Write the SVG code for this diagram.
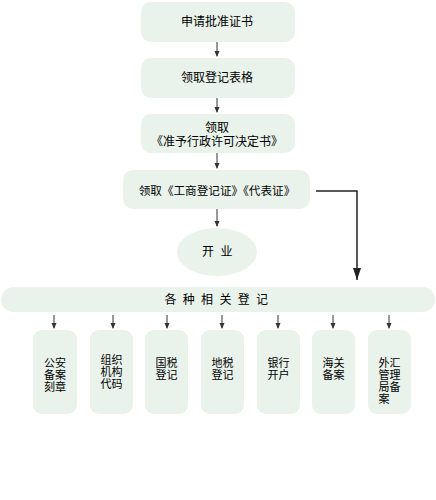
<svg xmlns="http://www.w3.org/2000/svg" width="436" height="500" viewBox="0 0 436 500">
<style>
.box{fill:#e9f3eb;stroke:none}
.t{font-family:"Liberation Sans","Noto Sans CJK SC",sans-serif;font-size:12px;fill:#000;text-anchor:middle}
.s{font-size:11px}
.c{stroke:#333;stroke-width:1;fill:none}
.cb{stroke:#222;stroke-width:1.5;fill:none}
</style>
<defs>
<marker id="a" viewBox="0 0 6 6" refX="5" refY="3" markerWidth="6" markerHeight="6" markerUnits="userSpaceOnUse" orient="auto">
<path d="M0,0.5 L6,3 L0,5.5 Z" fill="#333"/>
</marker>
<marker id="ab" viewBox="0 0 12 8" refX="12" refY="4" markerWidth="12" markerHeight="8" markerUnits="userSpaceOnUse" orient="auto">
<path d="M0,0 L12,4 L0,8 Z" fill="#222"/>
</marker>
</defs>
<rect width="436" height="500" fill="#fff"/>
<g id="connectors">
<line class="c" x1="217" y1="42" x2="217" y2="56" marker-end="url(#a)"/>
<line class="c" x1="217" y1="98" x2="217" y2="112" marker-end="url(#a)"/>
<line class="c" x1="217" y1="153" x2="217" y2="168" marker-end="url(#a)"/>
<line class="c" x1="217" y1="209" x2="217" y2="226" marker-end="url(#a)"/>
<polyline class="cb" points="316,191 357,191 357,280" marker-end="url(#ab)"/>
<line class="c" x1="54" y1="315" x2="54" y2="328" marker-end="url(#a)"/>
<line class="c" x1="113" y1="315" x2="113" y2="328" marker-end="url(#a)"/>
<line class="c" x1="167" y1="315" x2="167" y2="328" marker-end="url(#a)"/>
<line class="c" x1="222" y1="315" x2="222" y2="328" marker-end="url(#a)"/>
<line class="c" x1="278" y1="315" x2="278" y2="328" marker-end="url(#a)"/>
<line class="c" x1="333" y1="315" x2="333" y2="328" marker-end="url(#a)"/>
<line class="c" x1="389" y1="315" x2="389" y2="328" marker-end="url(#a)"/>
</g>
<g id="n1"><rect class="box" x="141" y="2" width="154" height="40" rx="10"/><text class="t" x="217" y="26">申请批准证书</text></g>
<g id="n2"><rect class="box" x="141" y="58" width="154" height="40" rx="10"/><text class="t" x="217" y="82">领取登记表格</text></g>
<g id="n3"><rect class="box" x="141" y="114" width="154" height="39" rx="10"/><text class="t" x="217" y="132">领取</text><text class="t" x="217" y="146">《准予行政许可决定书》</text></g>
<g id="n4"><rect class="box" x="123" y="170" width="187" height="39" rx="10"/><text class="t" x="217" y="195" style="font-size:11.6px">领取《工商登记证》《代表证》</text></g>
<g id="n5"><ellipse class="box" cx="217" cy="252" rx="40" ry="24"/><text class="t" x="218" y="256" style="letter-spacing:1.5px">开 业</text></g>
<g id="n6"><rect class="box" x="1" y="287" width="434" height="25" rx="12.5"/><text class="t" x="217" y="304" style="letter-spacing:1.5px">各 种 相 关 登 记</text></g>
<g id="n7"><rect class="box" x="33" y="330" width="44" height="84" rx="9"/><text class="t s" x="55" y="367">公安</text><text class="t s" x="55" y="379">备案</text><text class="t s" x="55" y="391">刻章</text></g>
<g id="n8"><rect class="box" x="90" y="330" width="43" height="84" rx="9"/><text class="t s" x="111.5" y="364">组织</text><text class="t s" x="111.5" y="376">机构</text><text class="t s" x="111.5" y="388">代码</text></g>
<g id="n9"><rect class="box" x="145" y="330" width="43" height="84" rx="9"/><text class="t s" x="166.5" y="367">国税</text><text class="t s" x="166.5" y="379">登记</text></g>
<g id="n10"><rect class="box" x="201" y="330" width="43" height="84" rx="9"/><text class="t s" x="222.5" y="367">地税</text><text class="t s" x="222.5" y="379">登记</text></g>
<g id="n11"><rect class="box" x="257" y="330" width="43" height="84" rx="9"/><text class="t s" x="278.5" y="367">银行</text><text class="t s" x="278.5" y="379">开户</text></g>
<g id="n12"><rect class="box" x="312" y="330" width="43" height="84" rx="9"/><text class="t s" x="333.5" y="367">海关</text><text class="t s" x="333.5" y="379">备案</text></g>
<g id="n13"><rect class="box" x="368" y="330" width="43" height="84" rx="9"/><text class="t s" x="389.5" y="367">外汇</text><text class="t s" x="389.5" y="379">管理</text><text class="t s" x="389.5" y="391">局备</text><text class="t s" x="384" y="403">案</text></g>
</svg>
